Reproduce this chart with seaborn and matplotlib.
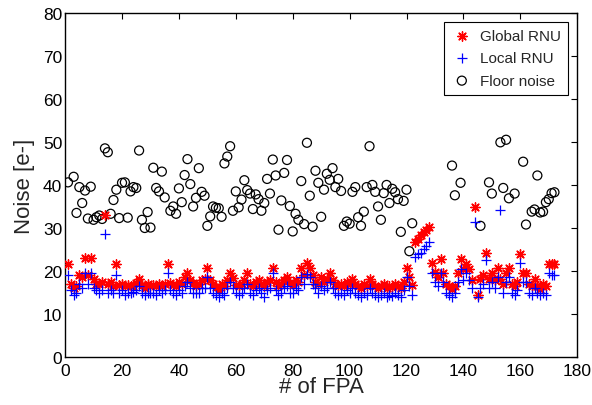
import numpy as np
import pandas as pd
import matplotlib
matplotlib.use("Agg")
import matplotlib.pyplot as plt
import seaborn as sns

fpa = list(range(1, 173))

global_rnu = [
    21.6, 17.0, 16.0, 16.6, 19.1, 18.5, 23.0, 19.0, 23.0, 18.1,
    17.1, 17.0, 17.5, 33.0, 17.0, 17.4, 16.5, 21.6, 16.8, 17.0,
    16.5, 16.8, 16.5, 16.6, 17.2, 18.1, 16.8, 16.0, 17.0, 16.5,
    16.8, 16.5, 17.0, 16.6, 17.0, 21.6, 17.2, 16.8, 16.5, 17.5,
    17.0, 18.5, 19.5, 18.0, 17.2, 16.5, 17.0, 17.8, 18.2, 20.6,
    18.0, 17.0, 16.2, 15.5, 17.0, 16.5, 18.0, 19.5, 18.3, 16.8,
    16.5, 17.0, 18.0, 19.5, 17.0, 16.5, 17.5, 18.0, 17.0, 16.5,
    17.5, 18.0, 20.6, 17.5, 16.5, 17.0, 18.0, 18.5, 17.2, 16.8,
    18.0, 17.5, 20.6, 19.0, 21.8, 20.6, 19.0, 17.5, 17.0, 18.5,
    17.5, 18.2, 19.5, 18.0, 17.0, 16.5, 17.0, 16.5, 17.5, 17.0,
    18.1, 17.0, 16.5, 16.0, 17.0, 16.5, 18.1, 17.0, 16.5, 16.0,
    16.5, 17.0, 16.0, 16.5, 16.2, 17.0, 16.5, 16.0, 17.5, 20.6,
    18.5, 16.7, 26.7, 27.5, 28.3, 29.0, 29.6, 30.2, 21.9, 19.7,
    18.5, 22.8, 19.5, 17.0, 16.6, 15.9, 16.6, 19.5, 22.8, 20.5,
    21.6, 20.5, 18.0, 34.8, 14.4, 18.1, 19.0, 24.2, 18.1, 19.5,
    18.0, 20.6, 18.1, 17.0, 19.5, 20.6, 17.0, 16.5, 17.5, 24.0,
    19.5, 19.5, 17.0, 16.5, 18.1, 16.5, 15.8, 17.0, 16.5, 21.6,
    21.6, 21.6,
]

local_rnu = [
    19.1, 15.5, 14.5, 15.0, 17.0, 16.0, 19.5, 17.0, 19.5, 16.0,
    15.5, 15.0, 15.5, 28.6, 15.0, 15.5, 15.0, 19.0, 15.0, 15.5,
    14.5, 15.0, 14.8, 15.2, 15.5, 16.5, 15.0, 14.5, 15.0, 14.8,
    15.0, 14.5, 15.5, 15.0, 15.5, 19.5, 15.5, 15.0, 14.5, 15.5,
    15.0, 16.5, 17.5, 16.0, 15.0, 14.8, 15.0, 16.0, 16.0, 18.5,
    16.0, 15.0, 14.5, 14.0, 15.0, 14.5, 16.0, 17.5, 16.0, 15.0,
    14.5, 15.0, 16.0, 17.0, 15.0, 14.5, 15.5, 16.0, 15.0, 14.0,
    15.5, 16.0, 19.5, 15.5, 14.5, 15.0, 16.0, 16.5, 15.0, 15.0,
    16.0, 15.5, 18.5, 17.0, 19.3, 18.5, 17.0, 16.0, 15.0, 16.5,
    15.5, 16.0, 17.5, 16.0, 15.0, 14.5, 15.0, 14.5, 15.5, 15.0,
    16.0, 15.0, 14.5, 14.0, 15.0, 14.5, 16.0, 15.0, 14.5, 14.0,
    14.5, 15.0, 14.0, 14.5, 14.2, 15.0, 14.5, 14.0, 15.5, 18.5,
    16.5, 14.5, 23.2, 24.0, 24.3, 25.1, 25.8, 26.7, 19.5, 17.5,
    16.5, 19.5, 17.5, 15.0, 14.5, 14.0, 15.0, 17.5, 20.5, 18.0,
    19.5, 18.0, 16.0, 31.5, 14.0, 16.0, 17.0, 22.5, 16.0, 17.5,
    16.0, 18.5, 34.2, 15.0, 17.5, 18.5, 15.0, 14.5, 15.5, 21.8,
    17.5, 17.5, 15.0, 14.5, 16.0, 15.0, 14.5, 15.0, 14.5, 19.5,
    19.0, 19.0,
]

floor_fpa = [
    1, 3, 4, 5, 6, 7, 8, 9, 10, 11, 12, 13, 14, 15, 16, 17, 18, 19, 20,
    21, 22, 23, 24, 25, 26, 27, 28, 29, 30, 31, 32, 33, 34, 35, 37, 38, 39, 40,
    41, 42, 43, 44, 45, 46, 47, 48, 49, 50, 51, 52, 53, 54, 55, 56, 57, 58, 59, 60,
    61, 62, 63, 64, 65, 66, 67, 68, 69, 70, 71, 72, 73, 74, 75, 76, 77, 78, 79, 80,
    81, 82, 83, 84, 85, 86, 87, 88, 89, 90, 91, 92, 93, 94, 95, 96, 97, 98, 99, 100,
    101, 102, 103, 104, 105, 106, 107, 108, 109, 110, 111, 112, 113, 114, 115, 116,
    117, 118, 119, 120, 121, 122, 136, 137, 139, 146, 149, 150, 153, 154, 155, 156,
    158, 161, 162, 164, 165, 166, 167, 168, 169, 170, 171, 172,
]
floor_noise = [
    40.6, 41.9, 33.5, 39.5, 35.8, 38.7, 32.2, 39.6, 31.9, 32.5, 32.9, 32.1, 48.5, 47.6, 33.3, 36.5, 38.9, 32.3, 40.5,
    40.6, 32.4, 38.5, 39.5, 39.3, 48.0, 31.9, 30.0, 33.7, 30.1, 44.0, 39.3, 38.5, 43.1, 37.1, 34.0, 35.0, 33.3, 39.2,
    36.0, 42.3, 46.0, 40.2, 35.0, 37.0, 43.9, 38.4, 37.5, 30.5, 32.7, 35.0, 34.7, 34.6, 32.6, 45.0, 46.6, 49.0, 34.0, 38.5,
    34.8, 36.6, 41.1, 38.8, 38.0, 34.4, 37.8, 36.7, 34.0, 35.8, 41.4, 38.0, 45.9, 42.2, 29.6, 36.4, 42.8, 45.8, 35.1, 29.2,
    33.3, 31.9, 40.9, 30.9, 49.8, 37.5, 30.3, 43.3, 40.5, 32.6, 38.9, 42.6, 41.2, 43.9, 39.5, 41.4, 38.6, 30.5, 31.5, 31.0,
    38.4, 39.5, 32.5, 30.5, 33.8, 39.5, 49.0, 40.0, 38.4, 35.0, 31.9, 38.1, 40.0, 35.8, 39.1, 38.3,
    36.7, 29.1, 36.3, 38.9, 24.6, 31.1, 44.5, 37.6, 40.5, 30.5, 40.6, 38.0, 49.9, 39.3, 50.5, 36.9,
    38.0, 45.4, 30.8, 33.8, 34.3, 42.2, 33.6, 33.8, 36.0, 36.7, 38.1, 38.3,
]

x_ticks = [0, 20, 40, 60, 80, 100, 120, 140, 160, 180]
y_ticks = [0, 10, 20, 30, 40, 50, 60, 70, 80]

sns.set_style("white")
plt.rcParams['font.family'] = ['Liberation Sans', 'DejaVu Sans']

fig = plt.figure(figsize=(5.92, 4.06), dpi=100)
ax = fig.add_axes([0.110, 0.118, 0.865, 0.848])

sns.scatterplot(x=floor_fpa, y=floor_noise, ax=ax, marker='o', s=42,
                facecolor='none', edgecolor='black', linewidth=0.9,
                label='Floor noise', zorder=2)
sns.scatterplot(x=fpa, y=global_rnu, ax=ax, marker=(8, 2, 0), s=45,
                color='red', edgecolor='red', linewidth=1.0,
                label='Global RNU', zorder=3)
sns.scatterplot(x=fpa, y=local_rnu, ax=ax, marker='+', s=45,
                color='blue', linewidth=0.9,
                label='Local RNU', zorder=4)

ax.set_xlim(0, 180)
ax.set_ylim(0, 80)
ax.set_xticks(x_ticks)
ax.set_yticks(y_ticks)
ax.tick_params(direction='in', length=4, width=0.8, top=True, right=True,
               labelsize=12.5, colors='black')
ax.tick_params(axis='x', pad=4)
ax.tick_params(axis='y', pad=2)
for sp in ax.spines.values():
    sp.set_visible(True)
    sp.set_color('black')
    sp.set_linewidth(1.0)
ax.set_xlabel('# of FPA', fontsize=16, labelpad=-1)
ax.set_ylabel('Noise [e-]', fontsize=16, labelpad=6)

handles, labels = ax.get_legend_handles_labels()
order = [labels.index('Global RNU'), labels.index('Local RNU'), labels.index('Floor noise')]
leg = ax.legend([handles[i] for i in order], [labels[i] for i in order],
                loc='upper right', fontsize=11, frameon=True, fancybox=False,
                framealpha=1, edgecolor='black', borderaxespad=0.6,
                handlelength=1.4, handletextpad=0.5, borderpad=0.45,
                labelspacing=0.55)
leg.get_frame().set_linewidth(0.8)

fig.savefig('out.png', dpi=100)
